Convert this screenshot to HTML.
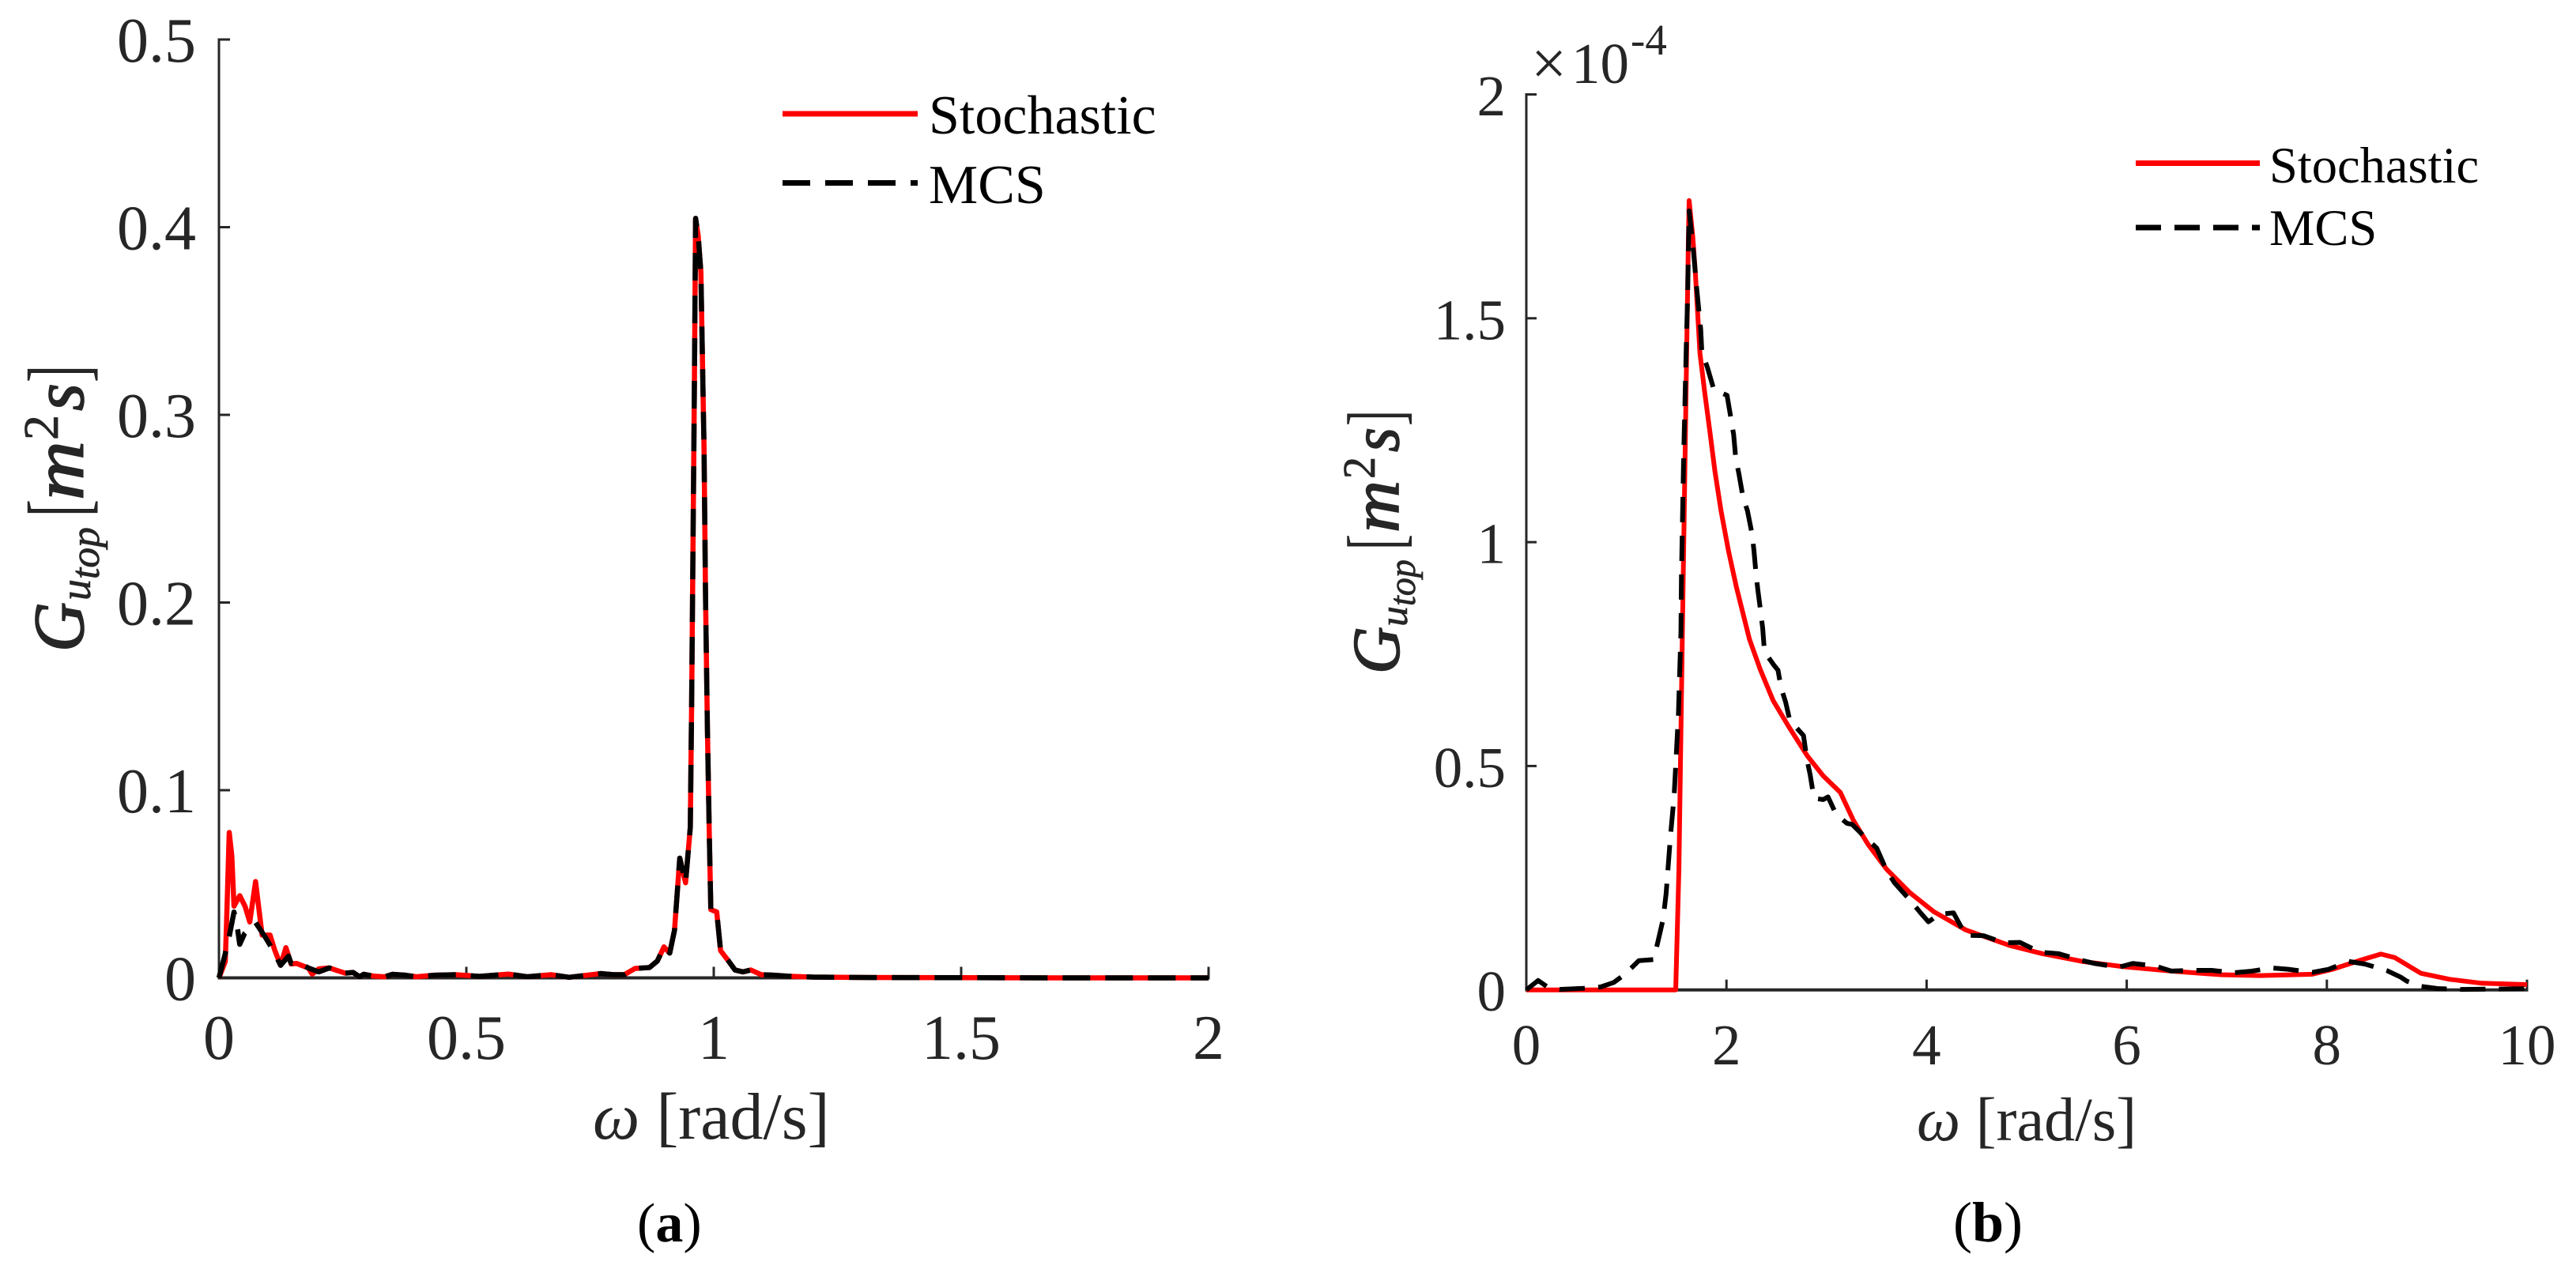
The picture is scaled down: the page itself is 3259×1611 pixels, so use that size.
<!DOCTYPE html>
<html>
<head>
<meta charset="utf-8">
<title>Power spectral density comparison</title>
<style>
html,body{margin:0;padding:0;background:#fff;width:3259px;height:1611px;overflow:hidden}
svg{display:block}
text{font-family:"Liberation Serif","Times New Roman",serif;fill:#262626}
.mi{font-style:italic;stroke:#262626;stroke-width:1.6px}
.mi2{font-style:italic;stroke:#262626;stroke-width:.7px}
</style>
</head>
<body>
<svg id="figure" xmlns="http://www.w3.org/2000/svg" width="3259" height="1611" viewBox="0 0 3259 1611">
  <rect x="0" y="0" width="3259" height="1611" fill="#fff"/>
  <g id="panel-a"></g>
  <g id="panel-b"></g>

  <g>
    <text class="mi" transform="translate(105,825) rotate(-90)" font-size="91" textLength="63" lengthAdjust="spacingAndGlyphs">G</text>
    <text class="mi2" transform="translate(114,760) rotate(-90)" font-size="55" textLength="27" lengthAdjust="spacingAndGlyphs">u</text>
    <text class="mi2" transform="translate(125,733) rotate(-90)" font-size="52" textLength="66" lengthAdjust="spacingAndGlyphs">top</text>
    <text transform="translate(109,654) rotate(-90)" font-size="107" textLength="22" lengthAdjust="spacingAndGlyphs">[</text>
    <text class="mi" transform="translate(105,633) rotate(-90)" font-size="91" textLength="75" lengthAdjust="spacingAndGlyphs">m</text>
    <text transform="translate(73,557) rotate(-90)" font-size="62" textLength="32" lengthAdjust="spacingAndGlyphs" style="stroke:#262626;stroke-width:.8px">2</text>
    <text class="mi" transform="translate(105,520) rotate(-90)" font-size="91" textLength="35" lengthAdjust="spacingAndGlyphs">s</text>
    <text transform="translate(109,484) rotate(-90)" font-size="107" textLength="22" lengthAdjust="spacingAndGlyphs">]</text>
  </g>

  <g>
    <text class="mi" transform="translate(1770,853) rotate(-90)" font-size="85" textLength="60" lengthAdjust="spacingAndGlyphs">G</text>
    <text class="mi2" transform="translate(1780,793) rotate(-90)" font-size="50" textLength="26" lengthAdjust="spacingAndGlyphs">u</text>
    <text class="mi2" transform="translate(1790,767) rotate(-90)" font-size="48" textLength="59" lengthAdjust="spacingAndGlyphs">top</text>
    <text transform="translate(1773,696) rotate(-90)" font-size="99" textLength="20" lengthAdjust="spacingAndGlyphs">[</text>
    <text class="mi" transform="translate(1769,674) rotate(-90)" font-size="86" textLength="66" lengthAdjust="spacingAndGlyphs">m</text>
    <text transform="translate(1739,606) rotate(-90)" font-size="58" textLength="28" lengthAdjust="spacingAndGlyphs" style="stroke:#262626;stroke-width:.8px">2</text>
    <text class="mi" transform="translate(1769,572) rotate(-90)" font-size="86" textLength="31" lengthAdjust="spacingAndGlyphs">s</text>
    <text transform="translate(1773,539) rotate(-90)" font-size="99" textLength="20" lengthAdjust="spacingAndGlyphs">]</text>
  </g>

  <text x="750" y="1441" font-size="84"><tspan font-style="italic">ω</tspan> [rad/s]</text>
  <text x="2425" y="1443" font-size="78"><tspan font-style="italic">ω</tspan> [rad/s]</text>

  <text x="806" y="1571" font-size="70" style="fill:#000">(<tspan font-weight="bold">a</tspan>)</text>
  <text x="2471" y="1571" font-size="72" style="fill:#000">(<tspan font-weight="bold">b</tspan>)</text>

  <g>
    <text x="1937" y="107" font-size="80">×</text>
    <text x="1988" y="105" font-size="73">10</text>
    <text x="2063" y="69" font-size="55">-4</text>
  </g>
</svg>
<script>
// ---- Panel (a) data ----
const omegaAStochastic = [0,.0128,.0154,.0208,.026,.0304,.042,.0527,.0623,.074,.082,.0873,.1033,.1123,.1246,.1353,.1459,.1565,.1805,.1885,.2018,.2231,.2551,.271,.2843,.2923,.3136,.335,.351,.377,.3989,.436,.4787,.5267,.5847,.623,.671,.7077,.7716,.798,.8195,.8408,.87,.886,.8994,.911,.9207,.9313,.943,.9526,.9553,.958,.9607,.9633,.9686,.974,.9766,.9803,.9835,.9872,.9909,.9941,1.006,1.0138,1.0298,1.043,1.059,1.075,1.096,1.1177,1.15,1.2,1.3,1.5,1.7,2];
const gAStochastic = [0,.00875,.0298,.0775,.0649,.0382,.0438,.0382,.0298,.0513,.034,.0228,.0228,.0151,.0067,.0161,.0074,.0077,.0053,.002,.0048,.0053,.0025,.0029,.0006,.0019,.0009,.0006,.0019,.0014,.0006,.0014,.0017,.0008,.002,.0006,.0017,.0003,.0023,.0017,.0017,.005,.0055,.009,.0165,.0132,.0254,.0638,.0507,.0803,.146,.2282,.3104,.4047,.3952,.376,.3377,.283,.201,.1324,.0777,.0364,.0351,.0145,.009,.0042,.0032,.0042,.0017,.0015,.0009,.0004,.0002,.0001,0,0];
const omegaAMcs = [0,.0128,.0208,.0304,.0378,.042,.0516,.074,.0926,.1102,.1246,.1406,.1459,.1565,.1805,.2018,.2231,.2551,.271,.2843,.2923,.3136,.335,.351,.377,.3989,.436,.4787,.5267,.5847,.623,.671,.7077,.7716,.798,.8195,.8408,.87,.886,.8994,.911,.9207,.9313,.943,.9526,.9553,.958,.9607,.9633,.9686,.974,.9766,.9803,.9835,.9872,.9909,.9941,1.006,1.0138,1.0298,1.043,1.059,1.075,1.096,1.1177,1.15,1.2,1.3,1.5,1.7,2];
const gAMcs = [0,.013,.0221,.0351,.0256,.0179,.0235,.0295,.0221,.0144,.0067,.0116,.0077,.0088,.0053,.0032,.0053,.0025,.0029,.0006,.0019,.0009,.0006,.0019,.0014,.0006,.0014,.0017,.0008,.002,.0006,.0017,.0003,.0023,.0017,.0017,.005,.0055,.009,.0165,.0132,.0254,.0638,.0507,.0803,.146,.2282,.3104,.4047,.3952,.376,.3377,.283,.201,.1324,.0777,.0364,.0351,.0145,.009,.0042,.0032,.0042,.0017,.0015,.0009,.0004,.0002,.0001,0,0];
const xTicksA = [0,0.5,1,1.5,2];
const yTicksA = [0,0.1,0.2,0.3,0.4,0.5];

// ---- Panel (b) data (values in units of 1e-4) ----
const omegaBStochastic = [0,1.493,1.525,1.562,1.62,1.627,1.664,1.69,1.735,1.783,1.835,1.885,1.946,2.02,2.099,2.173,2.23,2.336,2.467,2.625,2.81,2.967,3.138,3.27,3.415,3.6,3.836,4.07,4.39,4.833,5.155,5.558,5.96,6.445,6.93,7.33,7.855,8.057,8.34,8.54,8.68,8.94,9.226,9.548,10];
const gBStochastic = [0,0,.27,.834,1.681,1.763,1.681,1.599,1.4225,1.334,1.246,1.158,1.07,.981,.9,.834,.783,.7166,.646,.587,.522,.478,.441,.378,.325,.2695,.2166,.175,.134,.099,.081,.0635,.052,.042,.034,.032,.035,.046,.0665,.08,.072,.037,.0236,.0148,.0118];
const omegaBMcs = [0,.118,.203,.333,.57,.743,.874,.953,1.058,1.124,1.27,1.309,1.367,1.397,1.44,1.477,1.52,1.545,1.55,1.572,1.598,1.611,1.627,1.672,1.704,1.743,1.754,1.81,1.875,2.006,2.046,2.072,2.093,2.125,2.164,2.21,2.257,2.275,2.296,2.314,2.336,2.362,2.38,2.475,2.515,2.546,2.591,2.63,2.67,2.77,2.804,2.836,2.875,2.967,3.015,3.094,3.204,3.257,3.389,3.502,3.6,3.678,3.84,3.94,4.019,4.128,4.269,4.39,4.571,4.771,4.934,5.134,5.316,5.537,5.68,5.92,6.06,6.283,6.445,6.666,6.848,7.07,7.23,7.453,7.614,7.855,8.017,8.218,8.38,8.6,8.74,8.8,8.94,9.105,9.345,9.63,10];
const gBMcs = [0,.021,.0078,.001,.0035,.0065,.0166,.0295,.0507,.0653,.0677,.1018,.1578,.215,.342,.433,.616,.799,.922,1.187,1.434,1.54,1.74,1.646,1.564,1.475,1.425,1.39,1.34,1.328,1.275,1.24,1.187,1.152,1.102,1.07,1.017,.981,.928,.893,.855,.808,.755,.725,.714,.675,.643,.605,.593,.568,.515,.481,.428,.425,.431,.393,.372,.3695,.34,.3166,.2665,.2395,.199,.172,.152,.169,.172,.122,.121,.105,.106,.084,.081,.0665,.059,.0506,.059,.0536,.042,.0436,.0436,.0383,.0413,.049,.046,.039,.046,.0635,.0577,.043,.0282,.0194,.0078,.003,.001,.0018,.0025];
const xTicksB = [0,2,4,6,8,10];
const yTicksB = [0,0.5,1,1.5,2];

const seriesLabels = ['Stochastic','MCS'];

const SVGNS = 'http://www.w3.org/2000/svg';

function makeScale(d0, d1, p0, p1) {
  return function (v) { return p0 + (v - d0) / (d1 - d0) * (p1 - p0); };
}

function drawPanel(cfg) {
  const root = document.getElementById(cfg.id);
  const sx = makeScale(cfg.xDomain[0], cfg.xDomain[1], cfg.left, cfg.right);
  const sy = makeScale(cfg.yDomain[0], cfg.yDomain[1], cfg.bottom, cfg.top);

  function addLine(x1, y1, x2, y2, width, name) {
    const el = document.createElementNS(SVGNS, 'line');
    el.setAttribute('x1', x1);
    el.setAttribute('y1', y1);
    el.setAttribute('x2', x2);
    el.setAttribute('y2', y2);
    el.setAttribute('stroke', '#262626');
    el.setAttribute('stroke-width', width);
    
    
    root.appendChild(el);
  }
  function addText(x, y, str, size, anchor, name, color) {
    const el = document.createElementNS(SVGNS, 'text');
    el.setAttribute('x', x);
    el.setAttribute('y', y);
    el.setAttribute('font-size', size);
    el.setAttribute('text-anchor', anchor);
    el.style.fill = color;
    el.textContent = str;
    
    
    root.appendChild(el);
  }
  function addSeries(xs, ys, color, dash, width, name) {
    const el = document.createElementNS(SVGNS, 'polyline');
    const pts = xs.map(function (x, i) { return sx(x).toFixed(2) + ',' + sy(ys[i]).toFixed(2); });
    el.setAttribute('points', pts.join(' '));
    el.setAttribute('fill', 'none');
    el.setAttribute('stroke', color);
    el.setAttribute('stroke-width', width);
    el.setAttribute('stroke-linejoin', 'round');
    if (dash) el.setAttribute('stroke-dasharray', dash);
    
    
    root.appendChild(el);
  }
  function addLegendLine(y, color, dash, name) {
    const el = document.createElementNS(SVGNS, 'line');
    el.setAttribute('x1', cfg.legend.x1);
    el.setAttribute('x2', cfg.legend.x2);
    el.setAttribute('y1', y);
    el.setAttribute('y2', y);
    el.setAttribute('stroke', color);
    el.setAttribute('stroke-width', cfg.legend.width);
    if (dash) el.setAttribute('stroke-dasharray', dash);
    
    
    root.appendChild(el);
  }

  // axes
  addLine(cfg.left, cfg.top - 1.5, cfg.left, cfg.bottom + 2, 3, 'y-axis-line');
  addLine(cfg.left, cfg.bottom, cfg.right + 1.5, cfg.bottom, 4, 'x-axis-line');

  // ticks and tick labels
  cfg.xTicks.forEach(function (t) {
    const x = sx(t);
    addLine(x, cfg.bottom, x, cfg.bottom - cfg.tickLen, 3, 'x-tick');
    addText(x, cfg.xLabelY, String(t), cfg.fontSize, 'middle', 'x-tick-label', '#262626');
  });
  cfg.yTicks.forEach(function (t) {
    const y = sy(t);
    addLine(cfg.left, y, cfg.left + cfg.tickLen, y, 3, 'y-tick');
    addText(cfg.yLabelX, y + cfg.yLabelDy, String(t), cfg.fontSize, 'end', 'y-tick-label', '#262626');
  });

  // series
  addSeries(cfg.stochasticX, cfg.stochasticY, '#ff0000', null, cfg.lineWidth, 'stochastic-line');
  addSeries(cfg.mcsX, cfg.mcsY, '#000000', cfg.dash, cfg.lineWidth, 'mcs-line');

  // legend
  addLegendLine(cfg.legend.y1, '#ff0000', null, 'legend-stochastic-swatch');
  addText(cfg.legend.textX, cfg.legend.base1, seriesLabels[0], cfg.legend.size, 'start', 'legend-stochastic-label', '#000');
  addLegendLine(cfg.legend.y2, '#000000', cfg.dash, 'legend-mcs-swatch');
  addText(cfg.legend.textX, cfg.legend.base2, seriesLabels[1], cfg.legend.size, 'start', 'legend-mcs-label', '#000');
}

drawPanel({
  id: 'panel-a', left: 277, right: 1529, top: 50, bottom: 1237.5,
  xDomain: [0, 2], yDomain: [0, 0.5],
  xTicks: xTicksA, yTicks: yTicksA,
  stochasticX: omegaAStochastic, stochasticY: gAStochastic,
  mcsX: omegaAMcs, mcsY: gAMcs,
  tickLen: 14, fontSize: 80, xLabelY: 1340, yLabelX: 248, yLabelDy: 28,
  lineWidth: 6.5, dash: '35 19',
  legend: { x1: 990, x2: 1161, y1: 144, y2: 231.5, textX: 1175, base1: 169, base2: 257, size: 70, width: 7 }
});

drawPanel({
  id: 'panel-b', left: 1931, right: 3197, top: 119.5, bottom: 1252.7,
  xDomain: [0, 10], yDomain: [0, 2],
  xTicks: xTicksB, yTicks: yTicksB,
  stochasticX: omegaBStochastic, stochasticY: gBStochastic,
  mcsX: omegaBMcs, mcsY: gBMcs,
  tickLen: 13, fontSize: 73, xLabelY: 1347, yLabelX: 1905, yLabelDy: 26.5,
  lineWidth: 6, dash: '32 17',
  legend: { x1: 2702, x2: 2859, y1: 206.5, y2: 288, textX: 2871, base1: 231, base2: 310, size: 64.5, width: 7 }
});
</script>
</body>
</html>
